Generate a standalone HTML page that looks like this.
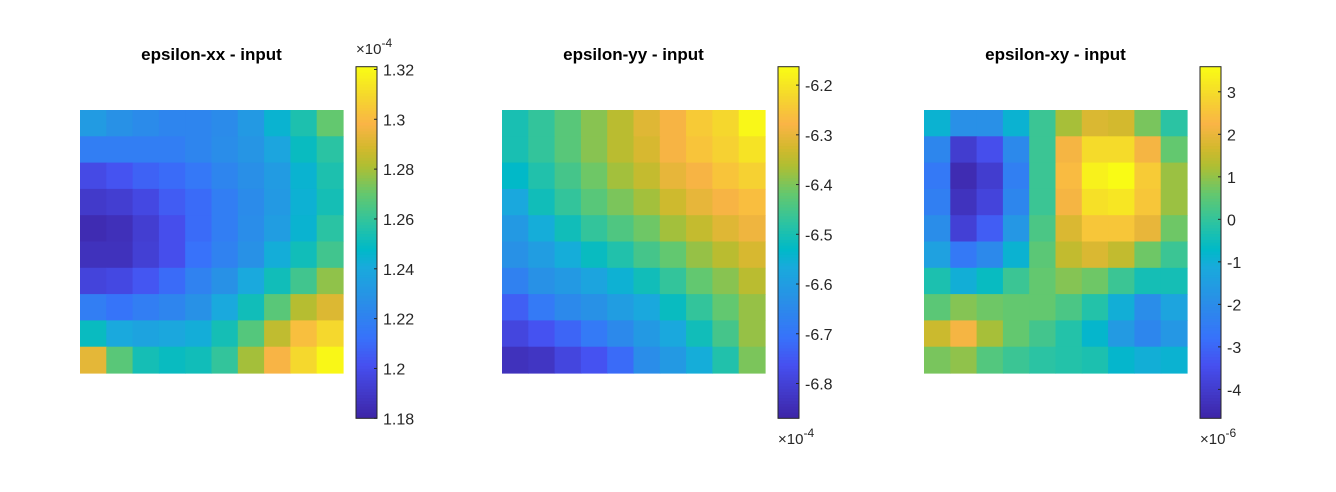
<!DOCTYPE html>
<html><head><meta charset="utf-8">
<style>
html,body{margin:0;padding:0;background:#fff;}
svg{display:block;font-family:"Liberation Sans",Arial,sans-serif;}
</style></head>
<body>
<svg id="fig" width="1336" height="492" viewBox="0 0 1336 492"></svg>
<script>
const rowsXX = [
[1.233,1.228,1.225,1.222,1.222,1.225,1.232,1.245,1.255,1.270],
[1.218,1.218,1.218,1.218,1.222,1.226,1.230,1.238,1.250,1.258],
[1.198,1.202,1.207,1.210,1.215,1.222,1.227,1.233,1.245,1.255],
[1.190,1.192,1.197,1.205,1.210,1.218,1.225,1.232,1.244,1.253],
[1.183,1.185,1.192,1.200,1.210,1.218,1.226,1.234,1.245,1.258],
[1.186,1.186,1.193,1.200,1.212,1.220,1.228,1.242,1.252,1.263],
[1.195,1.197,1.203,1.210,1.220,1.228,1.240,1.252,1.263,1.277],
[1.218,1.213,1.218,1.222,1.228,1.240,1.252,1.268,1.283,1.291],
[1.250,1.240,1.237,1.239,1.242,1.253,1.267,1.285,1.302,1.310],
[1.293,1.268,1.253,1.250,1.252,1.260,1.280,1.298,1.310,1.320]];
const rowsYY = [
[-6.50,-6.47,-6.43,-6.39,-6.35,-6.31,-6.28,-6.24,-6.22,-6.17],
[-6.50,-6.47,-6.43,-6.39,-6.35,-6.32,-6.28,-6.25,-6.23,-6.20],
[-6.53,-6.49,-6.45,-6.41,-6.37,-6.34,-6.30,-6.28,-6.25,-6.23],
[-6.57,-6.51,-6.47,-6.43,-6.40,-6.37,-6.33,-6.30,-6.28,-6.26],
[-6.61,-6.56,-6.51,-6.47,-6.44,-6.41,-6.37,-6.34,-6.31,-6.29],
[-6.63,-6.60,-6.56,-6.52,-6.49,-6.45,-6.42,-6.38,-6.35,-6.32],
[-6.67,-6.63,-6.61,-6.58,-6.55,-6.51,-6.47,-6.42,-6.39,-6.35],
[-6.74,-6.69,-6.65,-6.63,-6.60,-6.57,-6.52,-6.47,-6.42,-6.38],
[-6.79,-6.76,-6.73,-6.69,-6.65,-6.61,-6.57,-6.51,-6.45,-6.38],
[-6.84,-6.83,-6.79,-6.76,-6.72,-6.64,-6.61,-6.56,-6.49,-6.40]];
const rowsXY = [
[-0.9,-1.9,-1.9,-0.9,0.1,1.2,1.8,1.7,0.8,-0.1],
[-2.2,-4.0,-3.5,-2.1,0.1,2.2,3.0,3.0,2.2,0.6],
[-2.6,-4.5,-4.0,-2.4,0.1,2.4,3.4,3.6,2.7,1.1],
[-2.4,-4.3,-3.8,-2.2,0.1,2.2,3.1,3.2,2.6,1.1],
[-2.0,-3.9,-3.2,-1.7,0.3,1.8,2.6,2.6,2.0,0.7],
[-1.4,-2.6,-2.1,-0.9,0.5,1.5,1.8,1.5,0.7,0.1],
[-0.3,-1.0,-0.6,0.1,0.6,0.9,0.7,0.1,-0.4,-0.4],
[0.5,0.9,0.7,0.6,0.6,0.3,-0.2,-1.0,-2.0,-1.3],
[1.6,2.2,1.2,0.6,0.2,-0.2,-0.8,-1.6,-2.2,-1.7],
[0.8,1.0,0.4,0.1,-0.1,-0.2,-0.3,-0.8,-1.0,-0.9]];
const ticksXX = [1.18,1.2,1.22,1.24,1.26,1.28,1.3,1.32];
const ticksYY = [-6.8,-6.7,-6.6,-6.5,-6.4,-6.3,-6.2];
const ticksXY = [-4,-3,-2,-1,0,1,2,3];
const titles = ["epsilon-xx - input","epsilon-yy - input","epsilon-xy - input"];
const exps = ["-4","-4","-6"];

const NS="http://www.w3.org/2000/svg";
const svg=document.getElementById('fig');
function mk(t,a,p){const e=document.createElementNS(NS,t);for(const k in a)e.setAttribute(k,a[k]);(p||svg).appendChild(e);return e;}
const par=[[0,62,38,168],[0.15,70,80,240],[0.23,55,115,250],[0.34,40,145,230],[0.43,25,170,220],[0.48,0,185,200],[0.55,40,195,165],[0.64,100,200,110],[0.72,175,190,50],[0.77,210,185,45],[0.84,250,180,70],[0.92,245,215,45],[1,249,251,21]];
function cmap(t){t=Math.max(0,Math.min(1,t));for(let i=1;i<par.length;i++){if(t<=par[i][0]){const a=par[i-1],b=par[i],f=(t-a[0])/(b[0]-a[0]);return `rgb(${[1,2,3].map(j=>Math.round(a[j]+(b[j]-a[j])*f)).join(',')})`;}}return 'rgb(249,251,21)';}

const panels=[
 {data:rowsXX,ticks:ticksXX,min:1.18,max:1.3211,x:80,cb:356,fmt:v=>String(v),expTop:true},
 {data:rowsYY,ticks:ticksYY,min:-6.870,max:-6.163,x:502,cb:778,fmt:v=>v.toFixed(1),expTop:false},
 {data:rowsXY,ticks:ticksXY,min:-4.68,max:3.59,x:924,cb:1200,fmt:v=>String(v),expTop:false}];
const plotTop=110,plotSize=263,nCells=10,cs=plotSize/nCells,cbTop=66.7,cbBot=418.3,cbW=21;
panels.forEach((p,pi)=>{
  const g=mk('g',{});
  
  
  const t=mk('text',{x:p.x+plotSize/2,y:60,'text-anchor':'middle','font-size':17,'font-weight':'bold',fill:'#000'},g);
  t.textContent=titles[pi];
  
  
  const xs=v=>p.x+v*cs, ys=v=>plotTop+v*cs;
  p.data.forEach((row,r)=>row.forEach((v,c)=>{
    const rc=mk('rect',{x:xs(c),y:ys(r),width:cs+0.6,height:cs+0.6,fill:cmap((v-p.min)/(p.max-p.min))},g);
    
    
  }));
  const cy=v=>cbBot-(v-p.min)/(p.max-p.min)*(cbBot-cbTop);
  const cb=mk('g',{},g);
  
  
  const steps=120;
  for(let i=0;i<steps;i++){
    const v0=p.min+(p.max-p.min)*i/steps;
    mk('rect',{x:p.cb,y:cy(v0+(p.max-p.min)/steps)-0.3,width:cbW,height:(cbBot-cbTop)/steps+0.6,fill:cmap(i/(steps-1))},cb);
  }
  mk('rect',{x:p.cb,y:cbTop,width:cbW,height:cbBot-cbTop,fill:'none',stroke:'#262626','stroke-width':1},cb);
  p.ticks.forEach(v=>{
    const y=cy(v);
    mk('line',{x1:p.cb+cbW-3,x2:p.cb+cbW,y1:y,y2:y,stroke:'#262626'},cb);
    const tl=mk('text',{x:p.cb+cbW+6,y:y+6,'font-size':16,fill:'#262626'},cb);
    tl.textContent=p.fmt(v);
    
    
  });
  const ey=p.expTop?54:444;
  const ex=mk('text',{x:p.cb,y:ey,'font-size':15,fill:'#262626'},cb);
  ex.innerHTML='×10<tspan dy="-7" font-size="12">'+exps[pi]+'</tspan>';
  
  
});
</script>
</body></html>
